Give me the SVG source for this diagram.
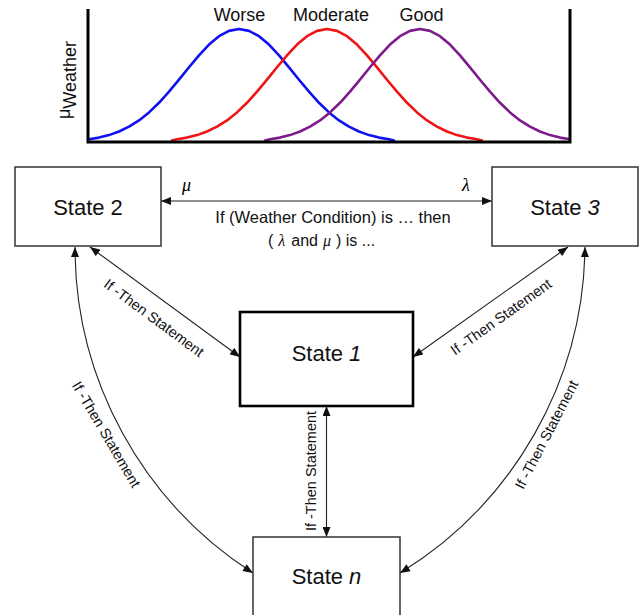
<svg xmlns="http://www.w3.org/2000/svg" width="641" height="615" viewBox="0 0 641 615">
<style>
  .lbl { font-family: "Liberation Sans", Arial, sans-serif; fill: #111; }
  .box { fill: #fff; stroke: #333; stroke-width: 1.5; }
  .box1 { fill: #fff; stroke: #000; stroke-width: 2.6; }
  .state { font-family: "Liberation Sans", Arial, sans-serif; font-size: 22px; fill: #111; text-anchor: middle; }
  .conn { fill: none; stroke: #222; stroke-width: 1.1; marker-start: url(#ah); marker-end: url(#ah); }
  .it { font-style: italic; }
  .greek { font-family: "Liberation Serif", "Times New Roman", serif; font-style: italic; }
  .curve { fill: none; stroke-width: 2.6; stroke-linejoin: round; stroke-linecap: round; }
  .ts { font-family: "Liberation Sans", Arial, sans-serif; font-size: 14.5px; fill: #111; text-anchor: middle; }
</style>
<defs>
  <marker id="ah" viewBox="0 0 10 8" refX="10" refY="4" markerWidth="11" markerHeight="8" markerUnits="userSpaceOnUse" orient="auto-start-reverse">
    <path d="M0,0 L10,4 L0,8 Z" fill="#111"/>
  </marker>
  <path id="gauss" d="M-155,140.5 L-150,139.3 L-140,137.6 L-130,135.1 L-120,131.5 L-110,126.7 L-100,120.4 L-90,112.4 L-80,102.8 L-70,91.7 L-60,79.7 L-50,67.3 L-40,55.3 L-30,44.6 L-20,36.2 L-10,30.9 L0,29 L10,30.9 L20,36.2 L30,44.6 L40,55.3 L50,67.3 L60,79.7 L70,91.7 L80,102.8 L90,112.4 L100,120.4 L110,126.7 L120,131.5 L130,135.1 L140,137.6 L150,139.3 L155,140.5"/>
  <clipPath id="chartclip"><rect x="88" y="0" width="482" height="142"/></clipPath>
</defs>
<rect width="641" height="615" fill="#fff"/>

<g id="chart">
  <g clip-path="url(#chartclip)">
    <use href="#gauss" class="curve" stroke="#1010f0" transform="translate(239,0)"/>
    <use href="#gauss" class="curve" stroke="#ee1515" transform="translate(327,0)"/>
    <use href="#gauss" class="curve" stroke="#7d1a8c" transform="translate(420,0)"/>
  </g>
  <path d="M88,9 L88,142 L570,142 L570,9" fill="none" stroke="#000" stroke-width="3"/>
  <text class="lbl" x="239.5" y="21" font-size="18" text-anchor="middle">Worse</text>
  <text class="lbl" x="331" y="21" font-size="18" text-anchor="middle">Moderate</text>
  <text class="lbl" x="421.5" y="21" font-size="18" text-anchor="middle">Good</text>
  <text class="lbl" font-size="18" transform="translate(70,119) rotate(-90)"><tspan>μ</tspan><tspan dy="6">Weather</tspan></text>
</g>

<g id="connectors">
  <line class="conn" x1="161" y1="201" x2="492" y2="201"/>
  <line class="conn" x1="90" y1="247" x2="240" y2="357"/>
  <line class="conn" x1="568" y1="247" x2="413" y2="357"/>
  <line class="conn" x1="326.5" y1="406" x2="326.5" y2="537"/>
  <path class="conn" d="M75,247 A387,387 0 0,0 253,573"/>
  <path class="conn" d="M585,247 A387,387 0 0,1 400,573"/>
  <text class="greek" x="182" y="191" font-size="18">μ</text>
  <text class="greek" x="462" y="191" font-size="18">λ</text>
  <text class="lbl" x="333" y="223" font-size="16.5" text-anchor="middle">If (Weather Condition) is … then</text>
  <text class="lbl" x="268" y="246" font-size="16">(<tspan class="greek" dx="5">λ</tspan><tspan dx="6">and</tspan><tspan class="greek" dx="5">μ</tspan><tspan dx="5">) is ...</tspan></text>
  <text class="ts" transform="translate(151,322) rotate(36.4)">If -Then Statement</text>
  <text class="ts" transform="translate(504,321) rotate(-35.5)">If -Then Statement</text>
  <text class="ts" transform="translate(102,437) rotate(59.5)">If -Then Statement</text>
  <text class="ts" transform="translate(551,437) rotate(-62.5)">If -Then Statement</text>
  <text class="ts" font-size="13.5" transform="translate(316,471) rotate(-90)">If -Then Statement</text>
</g>

<g id="state2">
  <rect class="box" x="15" y="167" width="146" height="79"/>
  <text class="state" x="88" y="215">State 2</text>
</g>
<g id="state3">
  <rect class="box" x="492" y="167" width="146" height="79"/>
  <text class="state" x="565" y="215">State <tspan class="it">3</tspan></text>
</g>
<g id="state1">
  <rect class="box1" x="240" y="312" width="173" height="94"/>
  <text class="state" x="326.5" y="361">State <tspan class="it">1</tspan></text>
</g>
<g id="staten">
  <rect class="box" x="253" y="537" width="147" height="85"/>
  <text class="state" x="326.5" y="584">State <tspan class="it">n</tspan></text>
</g>
</svg>
